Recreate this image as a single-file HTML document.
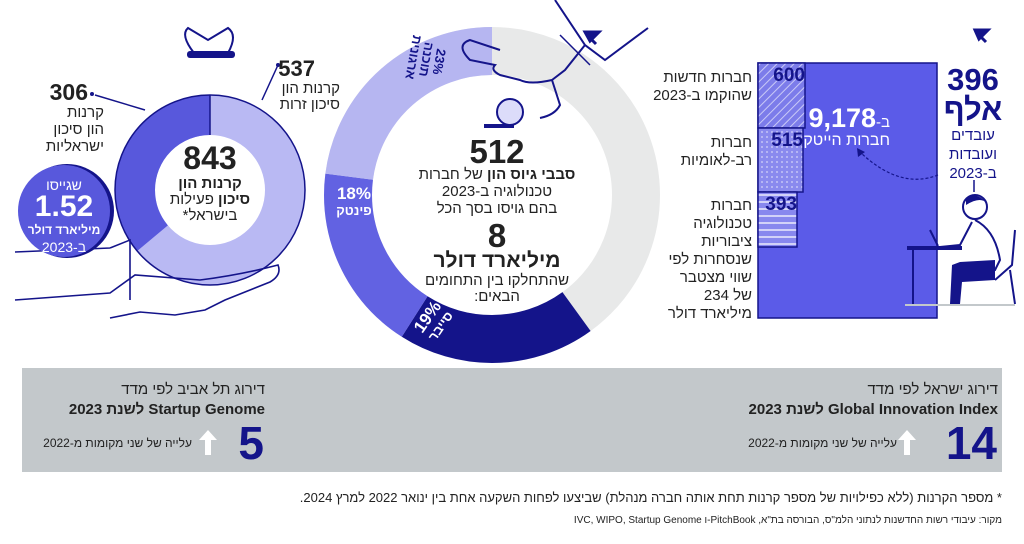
<!DOCTYPE html>
<html><head><meta charset="utf-8">
<style>
body{margin:0;width:1024px;height:544px;background:#fff;overflow:hidden;font-family:"Liberation Sans","DejaVu Sans",sans-serif;position:relative;color:#222}
.t{position:absolute;direction:rtl;white-space:nowrap;line-height:1}
.c{text-align:center;transform:translateX(50%)}
b{font-weight:bold}
</style></head><body>
<svg width="1024" height="544" style="position:absolute;left:0;top:0">
<defs>
<pattern id="hat" width="6" height="6" patternUnits="userSpaceOnUse" patternTransform="rotate(45)"><rect width="6" height="6" fill="#7c7cea"/><line x1="0" y1="0" x2="0" y2="6" stroke="#c9c9f6" stroke-width="2"/></pattern>
<pattern id="dot" width="5" height="5" patternUnits="userSpaceOnUse"><rect width="5" height="5" fill="#8a8aee"/><circle cx="2" cy="2" r="0.9" fill="#d6d6f8"/></pattern>
<pattern id="hst" width="6" height="7" patternUnits="userSpaceOnUse"><rect width="6" height="7" fill="#8888ee"/><rect y="5" width="6" height="2" fill="#d2d2f8"/></pattern>
</defs>
<rect x="22" y="368" width="980" height="104" fill="#c3c8cb"/>
<g transform="rotate(-90 492 195)">
<circle cx="492" cy="195" r="144" fill="none" stroke="#e8e9e9" stroke-width="48"/>
<circle cx="492" cy="195" r="144" fill="none" stroke="#14148a" stroke-width="48" stroke-dasharray="0 361.9 171.9 1000"/>
<circle cx="492" cy="195" r="144" fill="none" stroke="#6262e2" stroke-width="48" stroke-dasharray="0 533.8 162.9 1000"/>
<circle cx="492" cy="195" r="144" fill="none" stroke="#b6b6f1" stroke-width="48" stroke-dasharray="0 696.7 208.1 1000"/>
</g>
<path d="M555 0 L585 45 L605 60 L648 28 M585 45 L565 70 L552 80 Q530 85 520 80 L500 75 Q490 70 495 65 L470 60 Q455 45 470 40 L500 50 M552 80 L560 105 Q555 115 540 118" fill="none" stroke="#14148a" stroke-width="2"/>
<path d="M560 35 L590 65" stroke="#14148a" stroke-width="1.5"/>
<circle cx="510" cy="112" r="13" fill="#dcdcfa" stroke="#14148a" stroke-width="2"/>
<rect x="484" y="124" width="30" height="4" fill="#14148a"/>
<path d="M585 32 L599 32 L590 41 Z M586 34 L596 44" fill="#14148a" stroke="#14148a" stroke-width="3"/>
<path d="M194 53 Q180 35 188 28 L208 40 L228 28 Q238 35 228 53" fill="#fff" stroke="#14148a" stroke-width="2"/>
<g transform="rotate(-90 210 190)">
<circle cx="210" cy="190" r="75" fill="none" stroke="#b9b9f3" stroke-width="40"/>
<circle cx="210" cy="190" r="75" fill="none" stroke="#5858dc" stroke-width="40" stroke-dasharray="0 301 170 1000"/>
</g>
<circle cx="210" cy="190" r="95" fill="none" stroke="#14148a" stroke-width="1.5"/>
<line x1="210" y1="95" x2="210" y2="135" stroke="#14148a" stroke-width="1.5"/>
<rect x="187" y="51" width="48" height="7" rx="3" fill="#14148a"/>
<path d="M95 95 L145 110 M278 65 L262 100" stroke="#14148a" stroke-width="1.5"/>
<circle cx="92" cy="94" r="2" fill="#14148a"/><circle cx="278" cy="65" r="2" fill="#14148a"/>
<path d="M15 252 L110 248 M15 300 L110 293 L135 275 L200 280 Q240 275 278 265 Q282 275 270 282 L225 300 L205 310 L175 315 L140 312 L110 318 M110 248 L130 240 L130 300" fill="none" stroke="#14148a" stroke-width="1.6"/>
<circle cx="67" cy="211" r="47" fill="#14148a"/>
<circle cx="64" cy="211" r="46" fill="#5858dc"/>
<rect x="758" y="63" width="179" height="255" fill="#5b5be8" stroke="#14148a" stroke-width="1.5"/>
<rect x="758" y="63" width="47" height="65" fill="url(#hat)" stroke="#14148a" stroke-width="1.5"/>
<rect x="758" y="128" width="45" height="64" fill="url(#dot)" stroke="#14148a" stroke-width="1.5"/>
<rect x="758" y="192" width="39" height="55" fill="url(#hst)" stroke="#14148a" stroke-width="1.5"/>
<path d="M938 175 Q900 190 860 152" fill="none" stroke="#14148a" stroke-width="1.2" stroke-dasharray="3 2"/>
<path d="M857 148 L858 157 L865 152Z" fill="#14148a"/>
<path d="M974 180 L974 192" stroke="#14148a" stroke-width="1.5"/>
<circle cx="975" cy="207" r="12" fill="#fff" stroke="#14148a" stroke-width="2"/>
<path d="M966 200 Q975 190 987 203 Q980 196 966 205Z" fill="#14148a"/>
<path d="M975 220 Q995 230 1000 260 L995 270 L960 272 L958 300 M972 222 L960 245 L940 247" fill="none" stroke="#14148a" stroke-width="2"/>
<path d="M960 262 L995 260 L995 280 L962 282 L960 304 L950 304 L952 265Z" fill="#14148a"/>
<path d="M1015 230 L1012 265 L995 280 M1010 270 L1015 304" fill="none" stroke="#14148a" stroke-width="2"/>
<rect x="907" y="246" width="55" height="4" fill="#14148a"/>
<path d="M913 250 L913 306 M930 230 L938 246" stroke="#14148a" stroke-width="2"/>
<line x1="905" y1="305" x2="1015" y2="305" stroke="#c3c8cb" stroke-width="2"/>
<path d="M975 30 L988 30 L979 39Z M976 32 L986 42" fill="#14148a" stroke="#14148a" stroke-width="3"/>
<path d="M205 455 L205 440 L199 440 L208 430 L217 440 L211 440 L211 455Z" fill="#fff"/>
<path d="M904 455 L904 440 L898 440 L907 430 L916 440 L910 440 L910 455Z" fill="#fff"/>
</svg>

<div class="t" style="right:936px;top:81px;font-size:23px;font-weight:bold">306</div>
<div class="t" style="right:920px;top:104px;font-size:15px;line-height:17px;text-align:right">קרנות<br>הון סיכון<br>ישראליות</div>
<div class="t" style="right:709px;top:58px;font-size:22px;font-weight:bold">537</div>
<div class="t" style="right:684px;top:81px;font-size:15px;line-height:16px;text-align:right">קרנות הון<br>סיכון זרות</div>
<div class="t c" style="right:814px;top:142px;font-size:32px;font-weight:bold">843</div>
<div class="t c" style="right:814px;top:176px;font-size:15px;line-height:16px"><b>קרנות הון</b><br><b>סיכון</b> פעילות<br>בישראל*</div>
<div class="t c" style="right:960px;top:178px;font-size:14px;color:#fff">שגייסו</div>
<div class="t c" style="right:960px;top:192px;font-size:30px;font-weight:bold;color:#fff">1.52</div>
<div class="t c" style="right:960px;top:224px;font-size:12px;font-weight:bold;color:#fff">מיליארד דולר</div>
<div class="t c" style="right:960px;top:240px;font-size:14px;color:#fff">ב-2023</div>
<div class="t c" style="right:527px;top:135px;font-size:33px;font-weight:bold">512</div>
<div class="t c" style="right:527px;top:166px;font-size:15px;line-height:17px"><b>סבבי גיוס הון</b> של חברות<br>טכנולוגיה ב-2023<br>בהם גויסו בסך הכל</div>
<div class="t c" style="right:527px;top:219px;font-size:33px;font-weight:bold">8</div>
<div class="t c" style="right:527px;top:250px;font-size:21px;font-weight:bold">מיליארד דולר</div>
<div class="t c" style="right:527px;top:273px;font-size:15px;line-height:16px">שהתחלקו בין התחומים<br>הבאים:</div>
<div class="t c" style="right:598px;top:40px;font-size:13px;font-weight:bold;line-height:13px;color:#14148a;transform:translateX(50%) rotate(100deg)">23%<br>תוכנה<br>ארגונית</div>
<div class="t c" style="right:670px;top:186px;font-size:17px;font-weight:bold;color:#fff;line-height:16px">18%<br><span style="font-size:13px">פינטק</span></div>
<div class="t c" style="right:590px;top:306px;font-size:17px;font-weight:bold;color:#fff;line-height:15px;transform:translateX(50%) rotate(-55deg)">19%<br><span style="font-size:13px">סייבר</span></div>
<div class="t" style="right:219px;top:66px;font-size:19px;font-weight:bold;color:#14148a">600</div>
<div class="t" style="right:221px;top:131px;font-size:19px;font-weight:bold;color:#14148a">515</div>
<div class="t" style="right:227px;top:195px;font-size:19px;font-weight:bold;color:#14148a">393</div>
<div class="t" style="right:272px;top:69px;font-size:15px;line-height:18px;text-align:right">חברות חדשות<br>שהוקמו ב-2023</div>
<div class="t" style="right:272px;top:134px;font-size:15px;line-height:18px;text-align:right">חברות<br>רב-לאומיות</div>
<div class="t" style="right:272px;top:197px;font-size:15px;line-height:18px;text-align:right">חברות<br>טכנולוגיה<br>ציבוריות<br>שנסחרות לפי<br>שווי מצטבר<br>של 234<br>מיליארד דולר</div>
<div class="t" style="right:134px;top:105px;color:#fff;font-weight:bold"><span style="font-size:15px;font-weight:normal">ב-</span><span style="font-size:27px">9,178</span></div>
<div class="t" style="right:134px;top:133px;font-size:16px;color:#fff">חברות הייטק</div>
<div class="t c" style="right:51px;top:65px;font-size:31px;font-weight:bold;color:#14148a;line-height:30px">396<br>אלף</div>
<div class="t c" style="right:51px;top:126px;font-size:15px;color:#14148a;line-height:19px">עובדים<br>ועובדות<br>ב-2023</div>
<div class="t" style="right:759px;top:382px;font-size:15px">דירוג תל אביב לפי מדד</div>
<div class="t" style="right:759px;top:402px;font-size:15px;font-weight:bold">Startup Genome לשנת 2023</div>
<div class="t" style="right:760px;top:420px;font-size:46px;font-weight:bold;color:#14148a">5</div>
<div class="t" style="right:832px;top:437px;font-size:12px">עלייה של שני מקומות מ-2022</div>
<div class="t" style="right:26px;top:382px;font-size:15px">דירוג ישראל לפי מדד</div>
<div class="t" style="right:26px;top:402px;font-size:15px;font-weight:bold">Global Innovation Index לשנת 2023</div>
<div class="t" style="right:27px;top:420px;font-size:46px;font-weight:bold;color:#14148a">14</div>
<div class="t" style="right:127px;top:437px;font-size:12px">עלייה של שני מקומות מ-2022</div>
<div class="t" style="right:22px;top:491px;font-size:13px">* מספר הקרנות (ללא כפילויות של מספר קרנות תחת אותה חברה מנהלת) שביצעו לפחות השקעה אחת בין ינואר 2022 למרץ 2024.</div>
<div class="t" style="right:22px;top:516px;font-size:10px">מקור: עיבודי רשות החדשנות לנתוני הלמ"ס, הבורסה בת"א, PitchBook-ו IVC, WIPO, Startup Genome</div>
</body></html>
